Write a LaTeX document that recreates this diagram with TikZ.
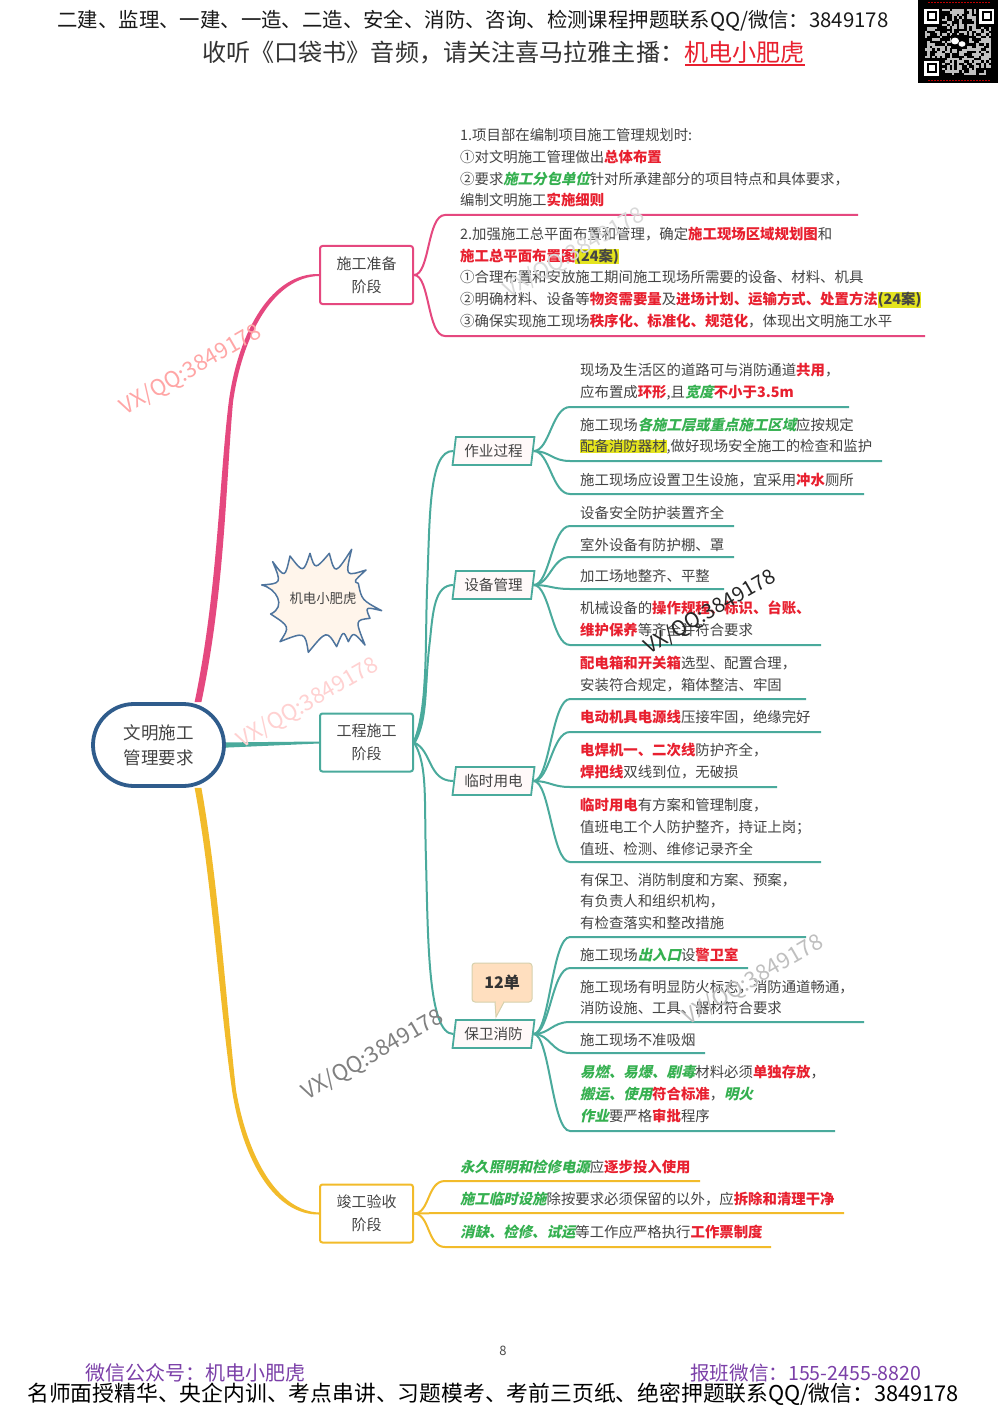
\documentclass[tikz,border=0pt]{standalone}
\usepackage{fontspec}
\usepackage{xcolor}
\usetikzlibrary{shapes.geometric,shapes.misc,calc}
\setmainfont{Noto Sans CJK SC}
\newfontfamily\gfont{Noto Sans CJK SC}[FakeSlant=0.22]
\definecolor{ink}{HTML}{444444}
\definecolor{redt}{HTML}{E8202F}
\definecolor{grnt}{HTML}{35B050}
\definecolor{hly}{HTML}{E4E41E}
\definecolor{teal1}{HTML}{4AAA9C}
\definecolor{pink1}{HTML}{E5487F}
\definecolor{yel1}{HTML}{F2BB2A}
\definecolor{blue1}{HTML}{2F5C8C}
\definecolor{purp}{HTML}{7B3FA8}
\newcommand\rd[1]{{\color{redt}\bfseries #1}}
\newcommand\gn[1]{{\color{grnt}\gfont\bfseries #1}}
\newcommand\hy[1]{{\setlength\fboxsep{0pt}\colorbox{hly}{#1}}}
% color, source, y, x start, x end
\newcommand\branch[5]{\coordinate (b#3) at (#5,#3);
  \draw[#1,line width=2pt] (#2) .. controls +(16,0) and (#4-18,#3) .. (#4,#3) -- (b#3);}
\tikzset{
  txt/.style={anchor=west,inner sep=0pt,align=left,text=ink,font=\fontsize{14.4}{21.7}\selectfont},
  stagebox/.style={draw,fill=white,line width=2pt,rounded corners=2.5pt,minimum width=93,minimum height=58,align=center,inner sep=0pt,text=ink,font=\fontsize{15}{23}\selectfont},
  topic/.style={draw=teal1,fill=pink!10!white,line width=1.8pt,trapezium,trapezium left angle=79,trapezium right angle=101,trapezium stretches=true,minimum width=82,minimum height=28,inner sep=0pt,text=ink,font=\fontsize{14.6}{18}\selectfont},
  wm/.style={rotate=30,font=\fontsize{22}{26}\selectfont,inner sep=0pt},
}
\begin{document}
\begin{tikzpicture}[x=1pt,y=-1pt]
\useasboundingbox (0,0) rectangle (1000,1415);
\fill[white] (0,0) rectangle (1000,1415);

% header
\node[inner sep=0pt,text=black!90,font=\fontsize{20.4}{24}\selectfont] (h1) at (473,21) {二建、监理、一建、一造、二造、安全、消防、咨询、检测课程押题联系QQ/微信：3849178};
\node[inner sep=0pt,text=black!80,font=\fontsize{24.1}{28}\selectfont,anchor=west] (h2) at (202,52.5) {收听《口袋书》音频，请关注喜马拉雅主播：{\color{redt}机电小肥虎}};
\coordinate (ula) at (685,65); \coordinate (ulb) at (805,65);
\draw[redt,line width=1.3pt] (ula) -- (ulb);

% QR
\fill[black] (918,0) rectangle (998,83);
\pgfmathsetseed{11}
\foreach \i in {0,...,26}{\foreach \j in {0,...,26}{
  \pgfmathrandominteger{\rr}{0}{1}
  \ifnum\rr=1 \fill[black!25] ({925+\i*2.45},{9+\j*2.45}) rectangle +(2.45,2.45); \fi
}}
\foreach \x/\y in {921/6,976/6,921/58}{
  \fill[black] (\x,\y) rectangle +(21,21);
  \fill[white] (\x+3,\y+3) rectangle +(15,15);
  \fill[black] (\x+5.5,\y+5.5) rectangle +(10,10);
  \fill[white] (\x+7.5,\y+7.5) rectangle +(6,6);
}
\fill[black] (951,35) rectangle +(16,14);
\fill[white] (955,41) ellipse (4 and 3.4);
\fill[white] (962,44) ellipse (3.4 and 2.8);
\draw[red!75!black,line width=1.5pt,dash pattern=on 2pt off 1pt] (928,2.5) -- (990,2.5);
\draw[red!75!black,line width=1.5pt,dash pattern=on 2pt off 1pt] (928,80.5) -- (990,80.5);

% nodes
\node[rounded rectangle,draw=blue1,fill=white,line width=3.8pt,minimum width=131,minimum height=82,inner sep=0pt,align=center,text=ink,font=\fontsize{17.5}{25}\selectfont] (root) at (158.5,745) {文明施工\\管理要求};
\node[stagebox,draw=pink1] (prep) at (366.5,275) {施工准备\\阶段};
\node[stagebox,draw=teal1] (work) at (366.5,742.5) {工程施工\\阶段};
\node[stagebox,draw=yel1] (done) at (366.5,1213.5) {竣工验收\\阶段};
\node[topic] (t1) at (493.5,451) {作业过程};
\node[topic] (t2) at (493.5,585) {设备管理};
\node[topic] (t3) at (493.5,781) {临时用电};
\node[topic] (t4) at (493.5,1034) {保卫消防};

% main connectors (tapered)
\fill[pink1] ([xshift=-3.4pt]root.north -| 198,703) .. controls (218,590) and (219,480) .. (229,400) .. controls (239,330) and (272,273) .. ([yshift=1pt]prep.west)
  -- ([yshift=-1pt]prep.west) .. controls (275,277) and (243,332) .. (233,402) .. controls (226,480) and (225,590) .. ([xshift=3.4pt]root.north -| 198,703) -- cycle;
\fill[yel1] ([xshift=-3.4pt]root.south -| 198,787) .. controls (212,880) and (219,1000) .. (232,1090) .. controls (243,1162) and (275,1215) .. ([yshift=-1pt]done.west)
  -- ([yshift=1pt]done.west) .. controls (279,1211) and (248,1160) .. (236,1090) .. controls (226,1000) and (218,880) .. ([xshift=3.4pt]root.south -| 198,787) -- cycle;
\fill[teal1] ([yshift=2.6pt]root.east) -- ([yshift=1pt]work.west) -- ([yshift=-1pt]work.west) -- ([yshift=-2.6pt]root.east) -- cycle;

\draw[teal1,line width=3.4pt] (work.east) .. controls (424,725) and (425,700) .. (426,670);
\draw[teal1,line width=2pt] (work.east) .. controls (428,705) and (425,650) .. (427,590) .. controls (430,520) and (428,450) .. (t1.west);
\draw[teal1,line width=2pt] (work.east) .. controls (428,705) and (425,680) .. (430,640) .. controls (433,610) and (435,585) .. (t2.west);
\draw[teal1,line width=2pt] (work.east) .. controls (432,750) and (428,781) .. (t3.west);
\draw[teal1,line width=2pt] (work.east) .. controls (428,765) and (424,800) .. (426,860) .. controls (428,940) and (428,1034) .. (t4.west);

% branches
\branch{pink1}{prep.east}{215}{445}{858}
\branch{pink1}{prep.east}{336}{445}{925}
\branch{teal1}{t1.east}{407}{570}{849}
\branch{teal1}{t1.east}{461}{570}{882}
\branch{teal1}{t1.east}{494}{570}{864}
\branch{teal1}{t2.east}{526}{570}{734}
\branch{teal1}{t2.east}{557}{570}{734}
\branch{teal1}{t2.east}{589}{570}{724}
\branch{teal1}{t2.east}{645}{570}{821}
\branch{teal1}{t3.east}{699}{570}{806}
\branch{teal1}{t3.east}{732}{570}{821}
\branch{teal1}{t3.east}{787}{570}{777}
\branch{teal1}{t3.east}{862}{570}{821}
\branch{teal1}{t4.east}{937}{570}{806}
\branch{teal1}{t4.east}{968}{570}{748}
\branch{teal1}{t4.east}{1022}{570}{864}
\branch{teal1}{t4.east}{1053}{570}{705}
\branch{teal1}{t4.east}{1131}{570}{835}
\branch{yel1}{done.east}{1181}{445}{700}
\branch{yel1}{done.east}{1213}{445}{844}
\branch{yel1}{done.east}{1247}{445}{771}

% pink text
\node[txt] (a1) at (460,168) {1.项目部在编制项目施工管理规划时:\\①对文明施工管理做出\rd{总体布置}\\②要求\gn{施工分包单位}针对所承建部分的项目特点和具体要求，\\编制文明施工\rd{实施细则}};
\node[txt] (a2) at (460,277.5) {2.加强施工总平面布置和管理，确定\rd{施工现场区域规划图}和\\\rd{施工总平面布置图}\hy{\bfseries(24案)}\\①合理布置和安放施工期间施工现场所需要的设备、材料、机具\\②明确材料、设备等\rd{物资需要量}及\rd{进场计划、运输方式、处置方法}\hy{\bfseries(24案)}\\③确保实现施工现场\rd{秩序化、标准化、规范化}，体现出文明施工水平};

% teal text
\node[txt] (b1) at (580,382) {现场及生活区的道路可与消防通道\rd{共用}，\\应布置成\rd{环形},且\gn{宽度}\rd{不小于3.5m}};
\node[txt] (b2) at (580,436) {施工现场\gn{各施工层或重点施工区域}应按规定\\\hy{配备消防器材},做好现场安全施工的检查和监护};
\node[txt] (b3) at (580,480) {施工现场应设置卫生设施，宜采用\rd{冲水}厕所};
\node[txt] (c1) at (580,512.5) {设备安全防护装置齐全};
\node[txt] (c2) at (580,544.5) {室外设备有防护棚、罩};
\node[txt] (c3) at (580,576.5) {加工场地整齐、平整};
\node[txt] (c4) at (580,619) {机械设备的\rd{操作规程、标识、台账、}\\\rd{维护保养}等齐全并符合要求};
\node[txt] (d1) at (580,674) {\rd{配电箱和开关箱}选型、配置合理，\\安装符合规定，箱体整洁、牢固};
\node[txt] (d2) at (580,717.5) {\rd{电动机具电源线}压接牢固，绝缘完好};
\node[txt] (d3) at (580,761) {\rd{电焊机一、二次线}防护齐全，\\\rd{焊把线}双线到位，无破损};
\node[txt] (d4) at (580,827) {\rd{临时用电}有方案和管理制度，\\值班电工个人防护整齐，持证上岗；\\值班、检测、维修记录齐全};
\node[txt] (e1) at (580,901.5) {有保卫、消防制度和方案、预案，\\有负责人和组织机构，\\有检查落实和整改措施};
\node[txt] (e2) at (580,955) {施工现场\gn{出入口}设\rd{警卫室}};
\node[txt] (e3) at (580,997.5) {施工现场有明显防火标志，消防通道畅通，\\消防设施、工具、器材符合要求};
\node[txt] (e4) at (580,1040) {施工现场不准吸烟};
\node[txt] (e5) at (580,1094) {\gn{易燃、易爆、剧毒}材料必须\rd{单独存放}，\\\gn{搬运、使用}\rd{符合标准}，\gn{明火}\\\gn{作业}要严格\rd{审批}程序};

% yellow text
\node[txt] (f1) at (460,1167) {\gn{永久照明和检修电源}应\rd{逐步投入使用}};
\node[txt] (f2) at (460,1199) {\gn{施工临时设施}除按要求必须保留的以外，应\rd{拆除和清理干净}};
\node[txt] (f3) at (460,1232) {\gn{消缺、检修、试运}等工作应严格执行\rd{工作票制度}};

% callout
\node[draw=black!25!green!20!brown!40,fill=orange!25!white,line width=1pt,rounded corners=3pt,minimum width=60,minimum height=39,inner sep=0pt,text=black!80,font=\fontsize{16}{20}\selectfont\bfseries] (note) at (502,982.5) {12单};
\coordinate (tip) at (496,1017);
\filldraw[draw=black!25!green!20!brown!40,fill=orange!25!white,line width=1pt] (495,1002) -- (tip) -- (504,1002);
\fill[orange!25!white] (495.6,1001) rectangle (503.4,1003);

% burst
\begin{scope}[shift={(60,520)},scale=0.33333]
\filldraw[draw=blue1!85!white,fill=orange!8!white,line width=1.5pt,line join=round]
 (605,195) .. controls (665,190) .. (638,125) .. controls (675,175) .. (690,108)
 .. controls (730,160) .. (750,100) .. controls (765,150) .. (808,100)
 .. controls (825,165) .. (875,88) .. controls (855,170) .. (918,150)
 .. controls (880,185) .. (895,190) .. controls (905,240) .. (965,272)
 .. controls (915,260) .. (930,295) .. controls (885,300) .. (915,375)
 .. controls (880,335) .. (865,365) .. controls (850,330) .. (830,380)
 .. controls (800,330) .. (745,397) .. controls (735,335) .. (660,365)
 .. controls (690,320) .. (632,282) .. controls (680,260) and (650,205) .. cycle;
\end{scope}
\node[inner sep=0pt,text=ink,font=\fontsize{13.4}{16}\selectfont] (burst) at (323,598) {机电小肥虎};

% footer
\node[inner sep=0pt,text=black!70,font=\fontsize{13}{15}\selectfont] (pg) at (503,1351) {8};
\node[anchor=west,inner sep=0pt,text=purp,font=\fontsize{20}{24}\selectfont] (fa) at (85,1373) {微信公众号：机电小肥虎};
\node[anchor=west,inner sep=0pt,text=purp,font=\fontsize{19.6}{24}\selectfont] (fb) at (690,1373) {报班微信：155-2455-8820};
\node[anchor=west,inner sep=0pt,text=black,font=\fontsize{21.8}{24}\selectfont] (fc) at (27,1394) {名师面授精华、央企内训、考点串讲、习题模考、考前三页纸、绝密押题联系QQ/微信：3849178};

% watermarks
\node[wm,text=red!35!white] (w1) at (191,370) {VX/QQ:3849178};
\node[wm,text=red!18!white] (w2) at (308,703) {VX/QQ:3849178};
\node[wm,text=black!85,font=\fontsize{20.5}{24}\selectfont] (w3) at (710,612) {VX/QQ:3849178};
\node[wm,text=black!50] (w4) at (373,1055) {VX/QQ:3849178};
\node[wm,text=black!25] (w5) at (753,980) {VX/QQ:3849178};
\node[wm,text=black!15] (w6) at (574,253) {VX/QQ:3849178};
\end{tikzpicture}
\end{document}
